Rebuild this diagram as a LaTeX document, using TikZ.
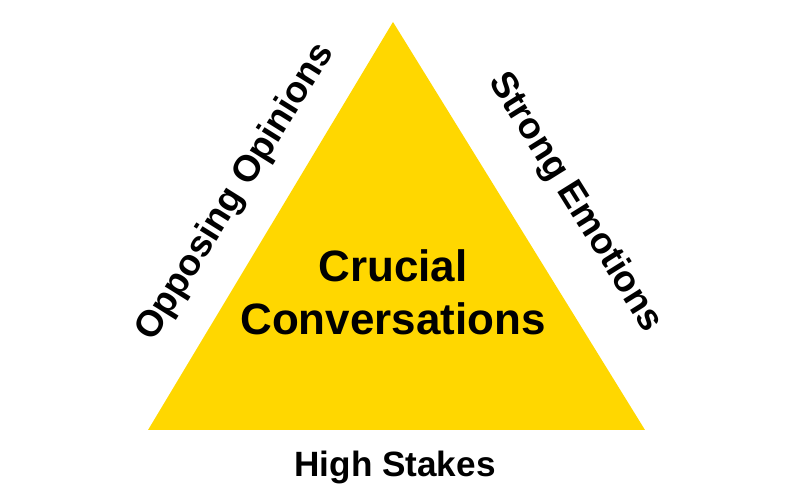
\documentclass[tikz,border=0pt]{standalone}
\usepackage{fontspec}
\setmainfont{Liberation Sans}
\usepackage{xcolor}
\definecolor{crucialyellow}{HTML}{FFD700}
\tikzset{
  sidelabel/.style={font=\bfseries\fontsize{21}{25}\selectfont, inner sep=0pt}
}
\begin{document}
\begin{tikzpicture}
		\useasboundingbox (0,0) rectangle (16,10);
		% corners of the triangle
		\coordinate (apex) at (7.86,9.56);
		\coordinate (left) at (2.96,1.4);
		\coordinate (right) at (12.9,1.4);
		\fill[crucialyellow] (apex) -- (left) -- (right) -- cycle;
		
		% the labels
		\node[font=\bfseries\fontsize{25}{30}\selectfont, align=center] (centre) at (7.86,4.15) {Crucial\\Conversations};
		\node[sidelabel, rotate=58] (opinions) at (4.72,6.15) {Opposing Opinions};
		\node[sidelabel, rotate=-58] (emotions) at (11.5,5.95) {Strong Emotions};
		\node[sidelabel, font=\bfseries\fontsize{20}{24}\selectfont] (stakes) at (7.9,0.66) {High Stakes};
\end{tikzpicture}
\end{document}
